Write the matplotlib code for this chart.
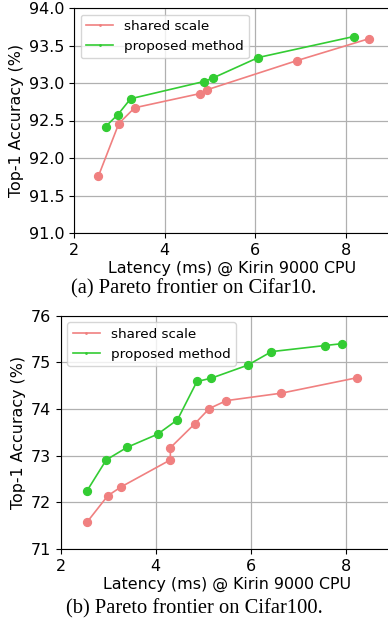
import numpy as np
import matplotlib.pyplot as plt

# Cifar10
c10_shared_lat = [2.54, 2.99, 3.34, 4.79, 4.94, 6.93, 8.51]
c10_shared_acc = [91.76, 92.46, 92.67, 92.86, 92.91, 93.30, 93.59]
c10_prop_lat = [2.70, 2.97, 3.25, 4.87, 5.08, 6.07, 8.18]
c10_prop_acc = [92.42, 92.58, 92.79, 93.02, 93.07, 93.34, 93.62]

# Cifar100
c100_shared_lat = [2.55, 2.99, 3.27, 4.31, 4.31, 4.82, 5.13, 5.49, 6.65, 8.24]
c100_shared_acc = [71.57, 72.14, 72.33, 72.91, 73.17, 73.68, 74.01, 74.18, 74.34, 74.67]
c100_prop_lat = [2.55, 2.96, 3.40, 4.04, 4.46, 4.87, 5.17, 5.94, 6.44, 7.56, 7.92]
c100_prop_acc = [72.24, 72.91, 73.18, 73.46, 73.77, 74.59, 74.66, 74.94, 75.23, 75.36, 75.40]

red = '#f08080'
green = '#33cc33'

W, H = 388.0, 624.0
fig = plt.figure(figsize=(3.88, 6.24), dpi=100)

def panel(rect, slat, sacc, plat, pacc, ylim, yticks, yfmt, caption, capy):
    l, t, r, b = rect
    ax = fig.add_axes([l / W, 1 - b / H, (r - l) / W, (b - t) / H])
    ax.plot(slat, sacc, color=red, lw=1.2, marker='.', ms=2, label='shared scale')
    ax.plot(plat, pacc, color=green, lw=1.2, marker='.', ms=2, label='proposed method')
    ax.scatter(slat, sacc, color=red, s=32, zorder=3)
    ax.scatter(plat, pacc, color=green, s=32, zorder=3)
    ax.set_xlim(2, 9)
    ax.set_ylim(*ylim)
    ax.set_xticks([2, 4, 6, 8])
    ax.set_yticks(yticks)
    ax.set_yticklabels([yfmt % v for v in yticks])
    ax.tick_params(labelsize=11.5)
    ax.grid(True, color='#b0b0b0', lw=0.9)
    ax.set_axisbelow(True)
    ax.set_xlabel('Latency (ms) @ Kirin 9000 CPU', fontsize=11.4, labelpad=2)
    ax.set_ylabel('Top-1 Accuracy (%)', fontsize=11.4, labelpad=3)
    ax.legend(loc='upper left', fontsize=9.7)
    fig.text(0.5, 1 - capy / H, caption, ha='center', va='center',
             family='Liberation Serif', fontsize=14.8)
    return ax

panel((74, 8, 391, 233), c10_shared_lat, c10_shared_acc, c10_prop_lat, c10_prop_acc,
      (91.0, 94.0), [91.0, 91.5, 92.0, 92.5, 93.0, 93.5, 94.0], '%.1f',
      '(a) Pareto frontier on Cifar10.', 289)
panel((60.7, 315.7, 393, 549), c100_shared_lat, c100_shared_acc, c100_prop_lat, c100_prop_acc,
      (71, 76), [71, 72, 73, 74, 75, 76], '%d',
      '(b) Pareto frontier on Cifar100.', 609)

plt.savefig('out.png', dpi=100)
